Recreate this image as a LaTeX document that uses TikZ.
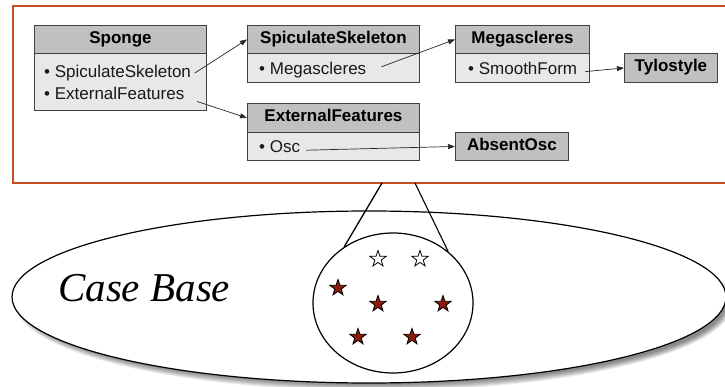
\documentclass[tikz,border=0pt]{standalone}
\usepackage{fontspec}
\setmainfont{Liberation Sans}
\newfontfamily\cbfont{Liberation Serif}
\usetikzlibrary{arrows.meta,shapes.geometric,calc}
\definecolor{frameor}{HTML}{C4501F}
\definecolor{hdrgray}{HTML}{C0C0C0}
\definecolor{bodygray}{HTML}{E8E8E8}
\definecolor{starred}{HTML}{8B1A0A}
\tikzset{
 hdr/.style={draw=black!75, line width=0.9pt, fill=hdrgray, anchor=north west, inner sep=0pt,
   font=\fontsize{17}{20}\selectfont\bfseries, text height=10pt, text depth=2pt},
 bodybox/.style={draw=black!75, line width=0.9pt, fill=bodygray, anchor=north west, inner sep=0pt},
 item/.style={anchor=base west, inner sep=0pt, text=black!90, font=\fontsize{17}{20}\selectfont},
 conn/.style={draw=black!85, line width=0.7pt, -{Triangle[length=7pt,width=5pt]}},
 cstar/.style={star, star points=5, star point ratio=2.5, minimum size=17pt, inner sep=0pt,
   draw=black, line width=0.8pt},
}
\begin{document}
\begin{tikzpicture}[x=1pt,y=-1pt]
\useasboundingbox (0,0) rectangle (725,387);
\clip (0,0) rectangle (725,387);
\fill[white] (0,0) rectangle (725,387);

% frame
\draw[frameor, line width=1.6pt] (726,6) -- (13,6) -- (13,183) -- (726,183);

% Sponge
\node[hdr, minimum width=172pt, minimum height=28pt] (sponge) at (34,25) {Sponge};
\node[bodybox, minimum width=172pt, minimum height=57pt] (spongeb) at (34,53) {};
\node[item] (sp1) at (44,78) {• SpiculateSkeleton};
\node[item] (sp2) at (44,100) {• ExternalFeatures};

% SpiculateSkeleton
\node[hdr, minimum width=172pt, minimum height=28pt] (ss) at (247,25) {SpiculateSkeleton};
\node[bodybox, minimum width=172pt, minimum height=29pt] (ssb) at (247,53) {};
\node[item] (ss1) at (259,75) {• Megascleres};

% ExternalFeatures
\node[hdr, minimum width=172pt, minimum height=29pt] (ef) at (247,103) {ExternalFeatures};
\node[bodybox, minimum width=172pt, minimum height=28pt] (efb) at (247,132) {};
\node[item] (ef1) at (259,153) {• Osc};

% Megascleres
\node[hdr, minimum width=134pt, minimum height=28pt] (meg) at (455,25) {Megascleres};
\node[bodybox, minimum width=134pt, minimum height=29pt] (megb) at (455,53) {};
\node[item] (meg1) at (468,75) {• SmoothForm};

% leaves
\node[hdr, minimum width=93pt, minimum height=29pt] (tylo) at (624,53) {Tylostyle};
\node[hdr, minimum width=113pt, minimum height=28pt] (aosc) at (455,132) {AbsentOsc};

% connectors
\draw[conn, shorten <=4pt] (sp1.mid east) -- (ss.west);
\draw[conn, shorten <=13pt] (sp2.mid east) -- (ef.west);
\draw[conn, shorten <=16pt] (ss1.mid east) -- (meg.west);
\draw[conn, shorten <=8pt] (meg1.mid east) -- (tylo.west);
\draw[conn, shorten <=6pt] (ef1.mid east) -- (aosc.west);

% case base ellipse with soft shadow
\foreach \k in {0,...,7}
  \fill[black, opacity=0.07] (374,303) ellipse [x radius={359-\k}, y radius={88-\k}];
\draw[line width=1.2pt, fill=white] (369,297) ellipse [x radius=357, y radius=86];
\node[anchor=base west, inner sep=0pt, font=\cbfont\itshape\fontsize{41}{49}\selectfont] (cbl) at (58,301) {Case Base};

% retrieved cases
\node[ellipse, draw, line width=1.2pt, minimum width=160pt, minimum height=140pt, inner sep=0pt] (pool) at (393,303) {};
\coordinate (z1) at (382,183);
\coordinate (z2) at (415,183);
\draw[line width=1.3pt] (z1) -- (pool.131);
\draw[line width=1.1pt] (z2) -- (pool.43);

\node[cstar, fill=white] (s1) at (378,259) {};
\node[cstar, fill=white] (s2) at (420,259) {};
\node[cstar, fill=starred] (s3) at (338,288) {};
\node[cstar, fill=starred] (s4) at (378,304) {};
\node[cstar, fill=starred] (s5) at (443,304) {};
\node[cstar, fill=starred] (s6) at (358,337) {};
\node[cstar, fill=starred] (s7) at (412,337) {};
\end{tikzpicture}
\end{document}
